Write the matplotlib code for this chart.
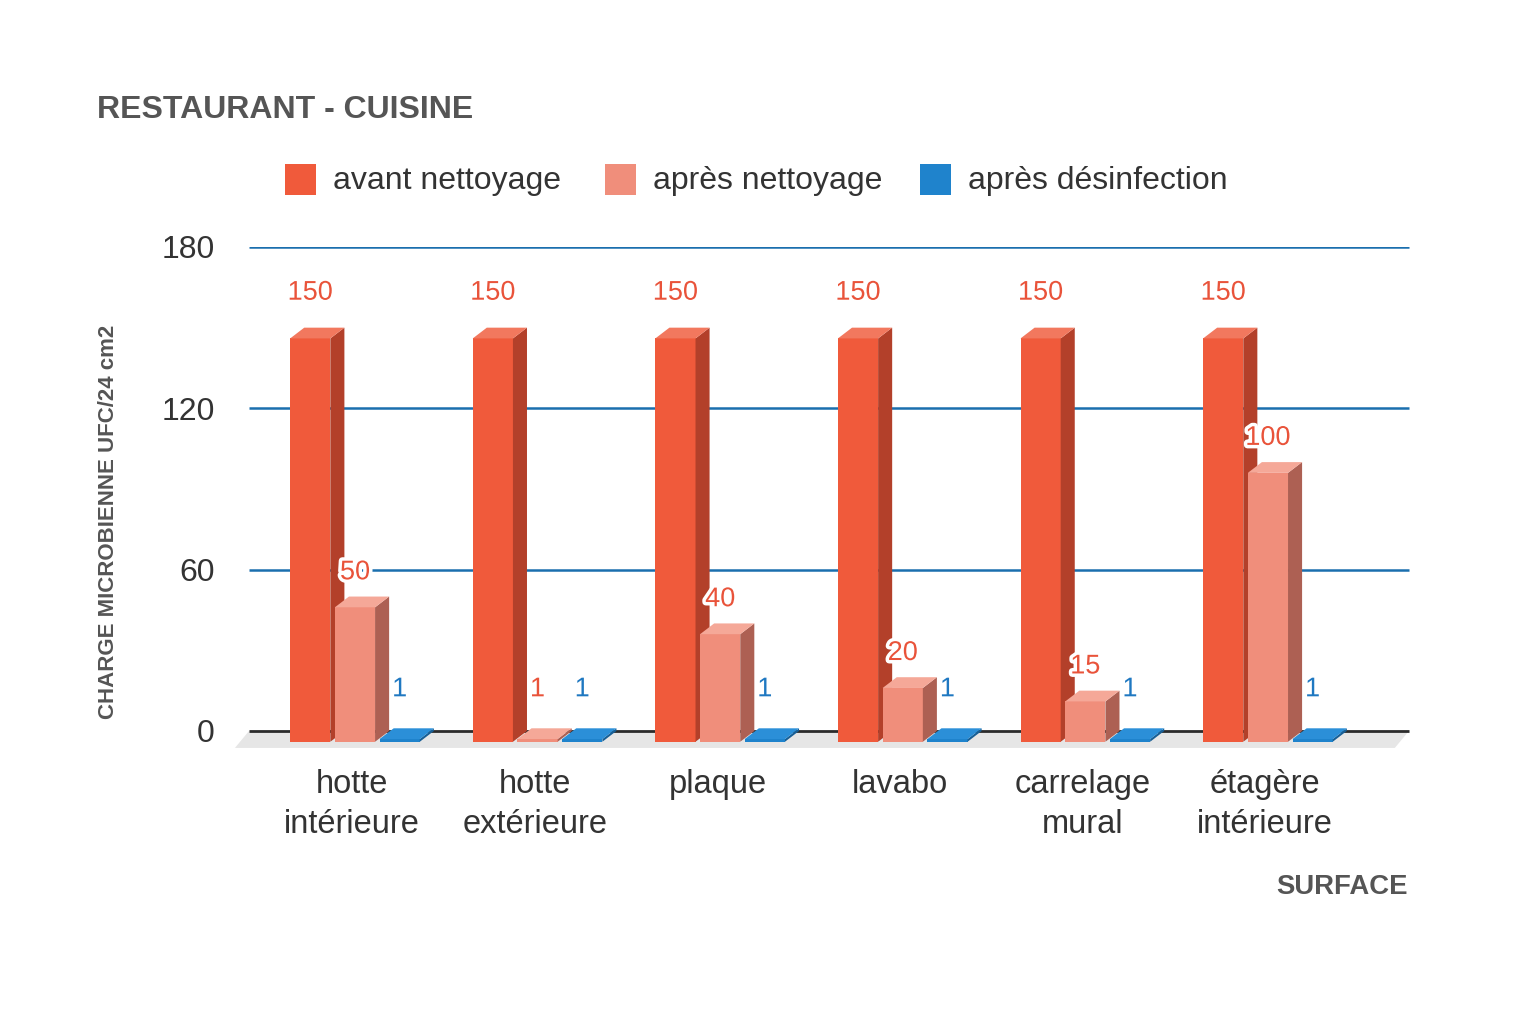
import numpy as np
import matplotlib
matplotlib.use("Agg")
import matplotlib.pyplot as plt
from matplotlib.patches import Polygon, Rectangle
import matplotlib.patheffects as pe

plt.rcParams['font.family'] = ['Liberation Sans', 'DejaVu Sans']

# data
categories = ["hotte\nintérieure", "hotte\nextérieure", "plaque", "lavabo",
              "carrelage\nmural", "étagère\nintérieure"]
series_names = ["avant nettoyage", "après nettoyage", "après désinfection"]
avant_nettoyage = [150, 150, 150, 150, 150, 150]
apres_nettoyage = [50, 1, 40, 20, 15, 100]
apres_desinfection = [1, 1, 1, 1, 1, 1]
y_ticks = [0, 60, 120, 180]

# colours: front, side, top
red = ("#f05a3b", "#b3402a", "#f2785e")
pink = ("#f08e7b", "#ad6053", "#f5a898")
blue = ("#1f83cc", "#175f96", "#2b8fd8")
label_colors = ["#e9533a", "#e9533a", "#1f78c1"]

W = 0.22      # bar width
DX = 0.077    # depth (x)
D = 4.0       # depth (y units)
offsets = [-0.245, 0.0, 0.245]


def bar3d(ax, x, v, cols):
    f, s, t = cols
    l, r = x - W / 2, x + W / 2
    ax.add_patch(Rectangle((l, -D), W, v, facecolor=f, edgecolor='none', zorder=3))
    ax.add_patch(Polygon([(r, -D), (r + DX, 0), (r + DX, v), (r, v - D)],
                         closed=True, facecolor=s, edgecolor='none', zorder=3))
    ax.add_patch(Polygon([(l, v - D), (r, v - D), (r + DX, v), (l + DX, v)],
                         closed=True, facecolor=t, edgecolor='none', zorder=3))


fig = plt.figure(figsize=(15.36, 10.24), dpi=100)
ax = fig.add_axes([230 / 1536, 1 - 752.5 / 1024, (1412 - 230) / 1536, (752.5 - 247) / 1024])
ax.set_xlim(-0.6845, 5.789)
ax.set_ylim(-8, 180)
for sp in ax.spines.values():
    sp.set_visible(False)

gx0, gx1 = -0.5805, 5.772
# floor
ax.add_patch(Polygon([(gx0, 0), (gx1, 0), (gx1 - DX, -6.3), (gx0 - DX, -6.3)],
                     closed=True, facecolor="#e6e6e6", edgecolor='none', zorder=1))
for yt in y_ticks[1:]:
    ax.hlines(yt, gx0, gx1, color="#1a6fae", lw=1.8, zorder=1)
ax.hlines(0, gx0, gx1, color="#2b2b2b", lw=2, zorder=2)

xs = np.arange(len(categories))
all_series = [avant_nettoyage, apres_nettoyage, apres_desinfection]
for k, (vals, cols) in enumerate(zip(all_series, [red, pink, blue])):
    for i, v in enumerate(vals):
        c = xs[i] + offsets[k]
        bar3d(ax, c, v, cols)
        ly = v + 13 if k == 0 else max(v + 9, 15.5)
        ax.text(c, ly, str(v), ha='center', va='center', fontsize=19.5,
                color=label_colors[k], zorder=5,
                path_effects=[pe.withStroke(linewidth=5, foreground='white')])

ax.set_yticks(y_ticks)
ax.set_yticklabels([str(t) for t in y_ticks], fontsize=23, color="#333333")
ax.tick_params(axis='y', length=0, pad=11)
ax.set_xticks(xs - 0.015)
ax.set_xticklabels(categories, fontsize=23.5, color="#333333", linespacing=1.38)
ax.tick_params(axis='x', length=0, pad=12)

ax.set_ylabel("CHARGE MICROBIENNE UFC/24 cm2", fontsize=16, fontweight='bold',
              color="#555555")
ax.yaxis.set_label_coords(-0.094, 0.456)

fig.text(97 / 1536, 1 - 110 / 1024, "RESTAURANT - CUISINE", fontsize=23,
         fontweight='bold', color="#555555", ha='left', va='center')
fig.text(1408 / 1536, 1 - 887 / 1024, "SURFACE", fontsize=19.8,
         fontweight='bold', color="#555555", ha='right', va='center')

# legend
leg_x = [285, 605, 920]
for name, cols, lx in zip(series_names, [red, pink, blue], leg_x):
    fig.patches.append(Rectangle((lx / 1536, 1 - 195 / 1024), 31 / 1536, 31 / 1024,
                                 transform=fig.transFigure, facecolor=cols[0],
                                 edgecolor='none'))
    fig.text((lx + 48) / 1536, 1 - 181 / 1024, name, fontsize=23, color="#333333",
             ha='left', va='center')

fig.savefig("out.png", dpi=100, facecolor='white')
